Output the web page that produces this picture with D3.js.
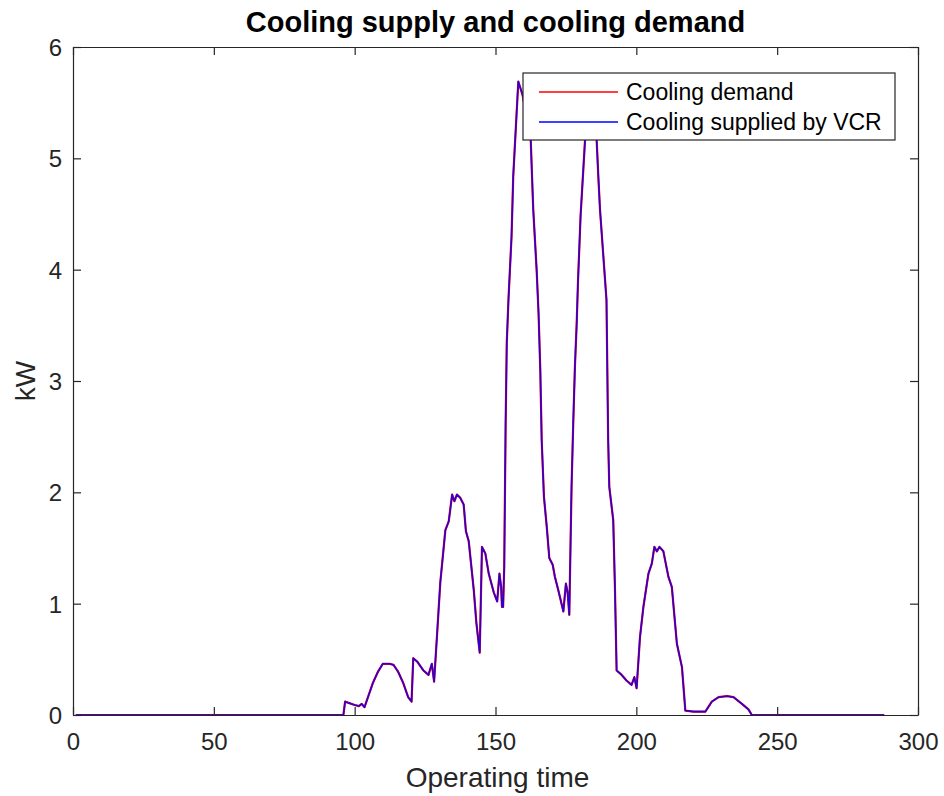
<!DOCTYPE html>
<html>
<head>
<meta charset="utf-8">
<script src="https://cdn.jsdelivr.net/npm/d3@7"></script>
<style>
  body { margin: 0; background: #fff; }
  svg { display: block; }
  text { font-family: "Liberation Sans", Arial, sans-serif; }
</style>
</head>
<body>
<svg id="chart" width="944" height="796"></svg>
<script>
// ---- data ----
const time = [1, 96, 96.6, 100, 101.5, 102.5, 103.5, 106.5, 108.3, 110, 112.4, 113.8, 115.4, 117.2, 119, 120.2,
  120.8, 122.2, 124.4, 126.2, 127.4, 128.2, 129.2, 130.4, 132.2, 133.4, 134.6, 135.4, 136.3, 137.5, 138.7,
  139.5, 140.5, 142.3, 143.2, 144.4, 145.2, 146.4, 147.6, 149.4, 150.6, 151.4, 152, 152.3, 152.7, 153.1,
  153.4, 153.6, 154, 154.6, 155.7, 156.3, 158.1, 159.6, 162.5, 163.4, 164.6, 165.3, 165.9, 166.4,
  167.2, 168.2, 169.1, 170.3, 171.1, 172.3, 174.1, 175, 175.6, 176.2, 177, 177.6, 178.2, 178.8, 179.3, 180.2,
  181.8, 183.5, 185.9, 186.5, 187.1, 189.4, 190, 190.4, 191.8, 192.4, 193, 194.8, 196.5, 198.3, 199.3, 200.1,
  201.3, 202.5, 204.3, 205.5, 206.4, 207.3, 208.2, 209.6, 211.4, 212.6, 214.4, 216.2, 217.4, 220.3, 224.5,
  226.8, 229.2, 232.2, 234.5, 237.5, 239.8, 241, 288];
const coolingDemand = [0, 0, 0.12, 0.09, 0.08, 0.10, 0.07, 0.29, 0.39, 0.46, 0.46, 0.45, 0.39, 0.29, 0.16, 0.12,
  0.51, 0.48, 0.40, 0.36, 0.46, 0.30, 0.70, 1.19, 1.66, 1.74, 1.98, 1.92, 1.98, 1.95, 1.89,
  1.65, 1.56, 1.12, 0.83, 0.56, 1.51, 1.45, 1.27, 1.10, 1.02, 1.27, 1.15, 0.97, 0.97, 1.33,
  2.11, 2.62, 3.34, 3.73, 4.30, 4.84, 5.69, 5.57, 5.17, 4.54, 4.00, 3.60, 3.10, 2.47,
  1.96, 1.69, 1.41, 1.35, 1.24, 1.12, 0.93, 1.18, 1.10, 0.90, 2.05, 2.62, 3.13, 3.50, 3.90, 4.48,
  5.17, 5.40, 5.17, 4.84, 4.54, 3.73, 2.47, 2.05, 1.75, 1.15, 0.40, 0.36, 0.31, 0.27, 0.34, 0.24,
  0.70, 0.97, 1.27, 1.36, 1.51, 1.47, 1.51, 1.47, 1.24, 1.15, 0.64, 0.43, 0.04, 0.03, 0.03,
  0.12, 0.16, 0.17, 0.16, 0.10, 0.05, 0, 0];
const coolingSupplied = [0, 0, 0.12, 0.09, 0.08, 0.10, 0.07, 0.29, 0.39, 0.46, 0.46, 0.45, 0.39, 0.29, 0.16, 0.12,
  0.51, 0.48, 0.40, 0.36, 0.46, 0.30, 0.70, 1.19, 1.66, 1.74, 1.98, 1.92, 1.98, 1.95, 1.89,
  1.65, 1.56, 1.12, 0.83, 0.56, 1.51, 1.45, 1.27, 1.10, 1.02, 1.27, 1.15, 0.97, 0.97, 1.33,
  2.11, 2.62, 3.34, 3.73, 4.30, 4.84, 5.69, 5.57, 5.17, 4.54, 4.00, 3.60, 3.10, 2.47,
  1.96, 1.69, 1.41, 1.35, 1.24, 1.12, 0.93, 1.18, 1.10, 0.90, 2.05, 2.62, 3.13, 3.50, 3.90, 4.48,
  5.17, 5.40, 5.17, 4.84, 4.54, 3.73, 2.47, 2.05, 1.75, 1.15, 0.40, 0.36, 0.31, 0.27, 0.34, 0.24,
  0.70, 0.97, 1.27, 1.36, 1.51, 1.47, 1.51, 1.47, 1.24, 1.15, 0.64, 0.43, 0.04, 0.03, 0.03,
  0.12, 0.16, 0.17, 0.16, 0.10, 0.05, 0, 0];
const xTicks = [0, 50, 100, 150, 200, 250, 300];
const yTicks = [0, 1, 2, 3, 4, 5, 6];
const seriesNames = ["Cooling demand", "Cooling supplied by VCR"];
const seriesColors = ["#ff0000", "#0000ff"];
const titleText = "Cooling supply and cooling demand";
const xLabel = "Operating time";
const yLabel = "kW";

// ---- layout ----
const svg = d3.select("#chart");
const L = 73, R = 918, T = 47, B = 715;
const x = d3.scaleLinear().domain([0, 300]).range([L, R]);
const y = d3.scaleLinear().domain([0, 6]).range([B, T]);
const axisColor = "#262626";
const tickLen = 8;

svg.append("rect").attr("x", 0).attr("y", 0).attr("width", 944).attr("height", 796).attr("fill", "#fff");

// data lines
const series = [coolingDemand, coolingSupplied];
const line = d3.line().x((d, i) => x(time[i])).y(d => y(d));
svg.append("path").datum(series[0]).attr("d", line)
  .attr("fill", "none").attr("stroke", seriesColors[0]).attr("stroke-width", 2.2).attr("stroke-linejoin", "round");
svg.append("path").datum(series[1]).attr("d", line)
  .attr("fill", "none").attr("stroke", seriesColors[1]).attr("stroke-width", 1.6).attr("stroke-opacity", 0.85).attr("stroke-linejoin", "round");

// axes (inward ticks, box)
const fmt = d3.format("d");
const gx = svg.append("g").attr("transform", `translate(0,${B})`)
  .call(d3.axisBottom(x).tickValues(xTicks).tickFormat(fmt).tickSizeInner(-tickLen).tickSizeOuter(0).tickPadding(18));
const gxTop = svg.append("g").attr("transform", `translate(0,${T})`)
  .call(d3.axisTop(x).tickValues(xTicks).tickSizeInner(-tickLen).tickSizeOuter(0).tickFormat(""));
const gy = svg.append("g").attr("transform", `translate(${L},0)`)
  .call(d3.axisLeft(y).tickValues(yTicks).tickFormat(fmt).tickSizeInner(-tickLen).tickSizeOuter(0).tickPadding(11));
const gyR = svg.append("g").attr("transform", `translate(${R},0)`)
  .call(d3.axisRight(y).tickValues(yTicks).tickSizeInner(-tickLen).tickSizeOuter(0).tickFormat(""));
[gx, gxTop, gy, gyR].forEach(g => {
  g.select(".domain").attr("stroke", axisColor).attr("stroke-width", 1.2);
  g.selectAll(".tick line").attr("stroke", axisColor).attr("stroke-width", 1.2);
  g.selectAll(".tick text").attr("fill", axisColor).style("font-size", "24px")
    .style("font-family", '"Liberation Sans", Arial, sans-serif');
});
gx.selectAll(".tick text").attr("dy", "0.71em");
gy.selectAll(".tick text").attr("dy", "0.35em");

// title and labels
svg.append("text").attr("x", (L + R) / 2).attr("y", 32).attr("text-anchor", "middle")
  .attr("fill", "#000").style("font-size", "29px").style("font-weight", "bold").text(titleText);
svg.append("text").attr("x", (L + R) / 2 + 2).attr("y", 787).attr("text-anchor", "middle")
  .attr("fill", axisColor).style("font-size", "28px").text(xLabel);
svg.append("text").attr("transform", `translate(35,${(T + B) / 2}) rotate(-90)`).attr("text-anchor", "middle")
  .attr("fill", axisColor).style("font-size", "28px").text(yLabel);

// legend
const lg = svg.append("g");
lg.append("rect").attr("x", 523).attr("y", 73).attr("width", 372).attr("height", 67)
  .attr("fill", "#fff").attr("stroke", axisColor).attr("stroke-width", 1.2);
seriesNames.forEach((name, i) => {
  const yy = 92 + i * 30;
  lg.append("line").attr("x1", 539).attr("x2", 618).attr("y1", yy).attr("y2", yy)
    .attr("stroke", seriesColors[i]).attr("stroke-width", 1.5);
  lg.append("text").attr("x", 626).attr("y", yy).attr("dy", "0.35em")
    .attr("fill", "#000").style("font-size", "23px").text(name);
});
</script>
</body>
</html>
